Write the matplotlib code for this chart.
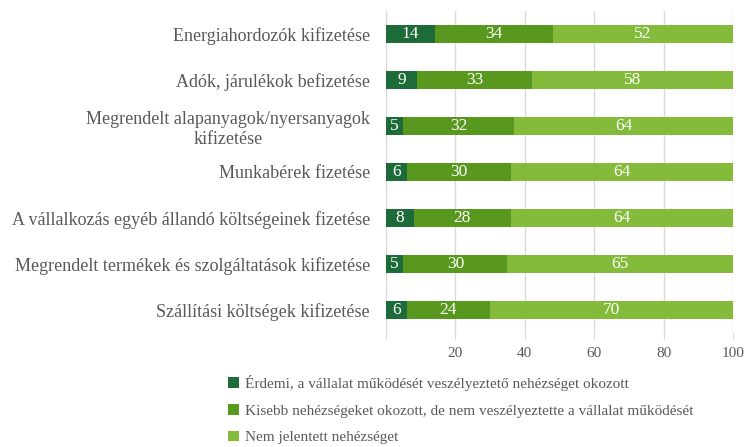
import matplotlib.pyplot as plt
import numpy as np

kategoriak = [
    "Energiahordozók kifizetése",
    "Adók, járulékok befizetése",
    "Megrendelt alapanyagok/nyersanyagok\nkifizetése",
    "Munkabérek fizetése",
    "A vállalkozás egyéb állandó költségeinek fizetése",
    "Megrendelt termékek és szolgáltatások kifizetése",
    "Szállítási költségek kifizetése",
]
erdemi = [14, 9, 5, 6, 8, 5, 6]
kisebb = [34, 33, 32, 30, 28, 30, 24]
nem = [52, 58, 64, 64, 64, 65, 70]

sorozatok = [
    ("Érdemi, a vállalat működését veszélyeztető nehézséget okozott", erdemi, "#1c6b38"),
    ("Kisebb nehézségeket okozott, de nem veszélyeztette a vállalat működését", kisebb, "#58981e"),
    ("Nem jelentett nehézséget", nem, "#84bb3a"),
]

plt.rcParams['font.family'] = ['Liberation Serif', 'DejaVu Serif']
szurke = "#595959"

fig = plt.figure(figsize=(7.46, 4.47), dpi=100)
ax = fig.add_axes([386/746, 1 - 333/447, (733-386)/746, (333-11)/447])

y = np.arange(len(kategoriak))
bal = np.zeros(len(kategoriak))
for nev, ertek, szin in sorozatok:
    ertek = np.array(ertek, dtype=float)
    rudak = ax.barh(y, ertek, left=bal, height=0.4, color=szin, label=nev, zorder=3)
    ax.bar_label(rudak, labels=[str(int(v)) for v in ertek], label_type='center',
                 color='white', fontsize=12.5)
    bal += ertek

ax.set_xlim(0, 100)
ax.set_ylim(6.5, -0.5)
ax.set_yticks(y)
ax.set_yticklabels(kategoriak, fontsize=13, color=szurke, ha='right', multialignment='center')
ax.tick_params(axis='y', length=0, pad=11.5)
ax.set_xticks([0, 20, 40, 60, 80, 100])
ax.set_xticklabels(["", "20", "40", "60", "80", "100"], fontsize=11, color=szurke)
ax.tick_params(axis='x', length=4, color="#d9d9d9", pad=6)
ax.xaxis.grid(True, color="#d9d9d9", linewidth=1, zorder=0)
for s in ['top', 'right', 'bottom']:
    ax.spines[s].set_visible(False)
ax.spines['left'].set_color("#d9d9d9")

fig.legend(loc='upper left', bbox_to_anchor=(222/746, 1 - 369/447), frameon=False,
           fontsize=11, labelcolor=szurke, handlelength=0.7, handleheight=0.7,
           handletextpad=0.4, labelspacing=0.85, borderaxespad=0)

plt.savefig("out.png", dpi=100)
